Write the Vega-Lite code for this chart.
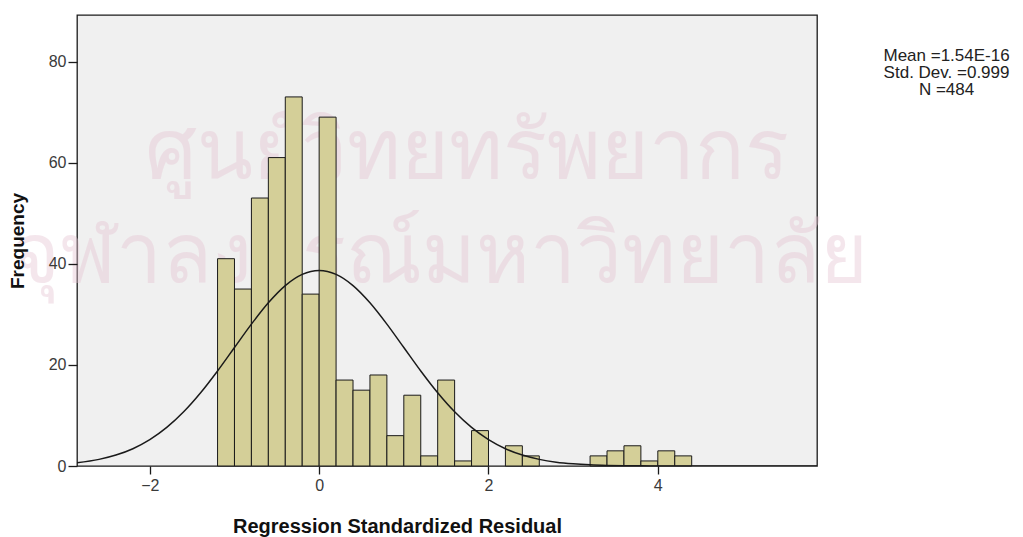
{
  "$schema": "https://vega.github.io/schema/vega-lite/v6.json",
  "autosize": {"type": "none"},
  "padding": {"left": 77, "top": 15, "right": 206, "bottom": 71},
  "width": 740,
  "height": 451,
  "background": "#ffffff",
  "config": {
    "font": "Liberation Sans",
    "view": {"fill": "#f0f0f0", "stroke": "#1a1a1a", "strokeWidth": 1.3}
  },
  "datasets": {
    "bins": [
      {"lo": -1.2, "hi": -1.0, "count": 41},
      {"lo": -1.0, "hi": -0.8, "count": 35},
      {"lo": -0.8, "hi": -0.6, "count": 53},
      {"lo": -0.6, "hi": -0.4, "count": 61},
      {"lo": -0.4, "hi": -0.2, "count": 73},
      {"lo": -0.2, "hi": 0.0, "count": 34},
      {"lo": 0.0, "hi": 0.2, "count": 69},
      {"lo": 0.2, "hi": 0.4, "count": 17},
      {"lo": 0.4, "hi": 0.6, "count": 15},
      {"lo": 0.6, "hi": 0.8, "count": 18},
      {"lo": 0.8, "hi": 1.0, "count": 6},
      {"lo": 1.0, "hi": 1.2, "count": 14},
      {"lo": 1.2, "hi": 1.4, "count": 2},
      {"lo": 1.4, "hi": 1.6, "count": 17},
      {"lo": 1.6, "hi": 1.8, "count": 1},
      {"lo": 1.8, "hi": 2.0, "count": 7},
      {"lo": 2.2, "hi": 2.4, "count": 4},
      {"lo": 2.4, "hi": 2.6, "count": 2},
      {"lo": 3.2, "hi": 3.4, "count": 2},
      {"lo": 3.4, "hi": 3.6, "count": 3},
      {"lo": 3.6, "hi": 3.8, "count": 4},
      {"lo": 3.8, "hi": 4.0, "count": 1},
      {"lo": 4.0, "hi": 4.2, "count": 3},
      {"lo": 4.2, "hi": 4.4, "count": 2}
    ],
    "curve": [
      {"x": -2.86, "freq": 0.64},
      {"x": -2.6, "freq": 1.31},
      {"x": -2.4, "freq": 2.16},
      {"x": -2.2, "freq": 3.42},
      {"x": -2.0, "freq": 5.21},
      {"x": -1.8, "freq": 7.63},
      {"x": -1.6, "freq": 10.72},
      {"x": -1.4, "freq": 14.48},
      {"x": -1.2, "freq": 18.79},
      {"x": -1.0, "freq": 23.43},
      {"x": -0.8, "freq": 28.06},
      {"x": -0.6, "freq": 32.28},
      {"x": -0.4, "freq": 35.68},
      {"x": -0.2, "freq": 37.89},
      {"x": 0.0, "freq": 38.66},
      {"x": 0.2, "freq": 37.89},
      {"x": 0.4, "freq": 35.68},
      {"x": 0.6, "freq": 32.28},
      {"x": 0.8, "freq": 28.06},
      {"x": 1.0, "freq": 23.43},
      {"x": 1.2, "freq": 18.79},
      {"x": 1.4, "freq": 14.48},
      {"x": 1.6, "freq": 10.72},
      {"x": 1.8, "freq": 7.63},
      {"x": 2.0, "freq": 5.21},
      {"x": 2.2, "freq": 3.42},
      {"x": 2.4, "freq": 2.16},
      {"x": 2.6, "freq": 1.31},
      {"x": 2.8, "freq": 0.76},
      {"x": 3.0, "freq": 0.43},
      {"x": 3.2, "freq": 0.23},
      {"x": 3.4, "freq": 0.12},
      {"x": 3.6, "freq": 0.06},
      {"x": 3.8, "freq": 0.03},
      {"x": 4.0, "freq": 0.01},
      {"x": 4.5, "freq": 0.0},
      {"x": 5.88, "freq": 0.0}
    ],
    "one": [{"k": 1}]
  },
  "layer": [
    {
      "data": {"name": "one"},
      "mark": {"type": "text", "text": "ศูนย์วิทยทรัพยากร", "fontSize": 82, "color": "#e6c3d2", "opacity": 0.4, "align": "center", "baseline": "alphabetic"},
      "encoding": {
        "x": {"datum": 1.75, "type": "quantitative", "scale": {"domain": [-2.86, 5.88], "nice": false, "zero": false}},
        "y": {"datum": 57, "type": "quantitative", "scale": {"domain": [0, 89.2], "nice": false}}
      }
    },
    {
      "data": {"name": "one"},
      "mark": {"type": "text", "text": "จุฬาลงกรณ์มหาวิทยาลัย", "fontSize": 82, "color": "#e6c3d2", "opacity": 0.4, "align": "center", "baseline": "alphabetic"},
      "encoding": {
        "x": {"datum": 1.43, "type": "quantitative"},
        "y": {"datum": 36.4, "type": "quantitative"}
      }
    },
    {
      "data": {"name": "bins"},
      "mark": {"type": "rect", "fill": "#d4cf98", "stroke": "#1a1a1a", "strokeWidth": 1},
      "encoding": {
        "x": {
          "field": "lo", "type": "quantitative",
          "scale": {"domain": [-2.86, 5.88], "nice": false, "zero": false},
          "axis": {
            "values": [-2, 0, 2, 4], "format": "d", "grid": false, "domain": false, "zindex": 1,
            "tickSize": 8, "tickColor": "#1a1a1a", "tickWidth": 1.3,
            "labelFontSize": 16, "labelColor": "#3a3a3a", "labelPadding": 3,
            "title": "Regression Standardized Residual",
            "titleFontSize": 20, "titleFontWeight": "bold", "titleColor": "#111111",
            "titleX": 320, "titleY": 66, "titleAnchor": "start", "titleAlign": "center", "titleBaseline": "alphabetic"
          }
        },
        "x2": {"field": "hi"},
        "y": {
          "field": "count", "type": "quantitative",
          "scale": {"domain": [0, 89.2], "nice": false},
          "axis": {
            "values": [0, 20, 40, 60, 80], "format": "d", "grid": false, "domain": false, "zindex": 1,
            "tickSize": 9, "tickColor": "#1a1a1a", "tickWidth": 1.3,
            "labelFontSize": 16, "labelColor": "#3a3a3a", "labelPadding": 2,
            "title": "Frequency", "titleFontSize": 19, "titleFontWeight": "bold", "titleColor": "#111111",
            "titleX": -50, "titleBaseline": "bottom", "titleAngle": -90
          }
        },
        "y2": {"datum": 0}
      }
    },
    {
      "data": {"name": "curve"},
      "mark": {"type": "line", "color": "#1a1a1a", "strokeWidth": 1.5, "interpolate": "monotone", "clip": true},
      "encoding": {
        "x": {"field": "x", "type": "quantitative"},
        "y": {"field": "freq", "type": "quantitative"}
      }
    },
    {
      "data": {"name": "one"},
      "mark": {"type": "text", "text": ["Mean =1.54E-16", "Std. Dev. =0.999", "N =484"], "fontSize": 17, "lineHeight": 17, "color": "#222222", "align": "center", "baseline": "top"},
      "encoding": {
        "x": {"datum": 7.41, "type": "quantitative"},
        "y": {"datum": 82.7, "type": "quantitative"}
      }
    }
  ]
}
